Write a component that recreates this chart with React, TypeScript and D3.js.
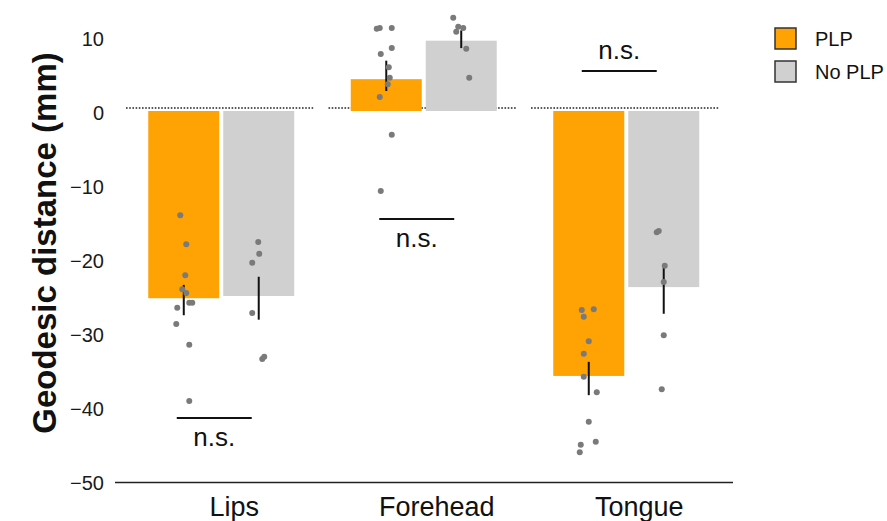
import React, { useEffect, useRef } from "react";
import * as d3 from "d3";

// regions and conditions
const regions = ["Lips", "Forehead", "Tongue"];
const conditions = ["PLP", "No PLP"];
const conditionColors = ["#FFA203", "#D0D0D0"];

// bar heights (mean geodesic distance, mm)
const plpMeans = [-25.3, 4.3, -35.8];
const noPlpMeans = [-25.0, 9.5, -23.8];

// error bar ends
const plpErrHigh = [-23.5, 6.8, -33.9];
const plpErrLow = [-27.6, 2.7, -38.4];
const noPlpErrHigh = [-22.4, 10.9, -21.1];
const noPlpErrLow = [-28.2, 8.5, -27.4];

// individual participants: [value, jitter]
const plpPoints = [
  [[-14.1, -3.5], [-18.0, 2.5], [-22.2, 1.5], [-24.1, -1.5], [-24.6, 2.5], [-25.9, 5.5], [-25.9, 8.5], [-26.6, -6.5], [-28.8, -7.5], [-31.6, 5.5], [-39.2, 5.5]],
  [[11.1, -9.5], [11.2, -6.5], [11.2, 5.5], [8.5, 5.5], [7.7, -5.5], [5.9, 2.5], [4.5, 3.5], [3.6, 1.5], [1.9, -6.5], [-3.2, 5.5], [-10.8, -5.5]],
  [[-26.9, -7], [-26.8, 5], [-27.8, -5], [-31.1, 0], [-32.8, -5], [-35.9, -5], [-38.0, 8], [-42.0, 0], [-45.1, -8], [-44.7, 7], [-46.1, -9]],
];
const noPlpPoints = [
  [[-17.7, -0.5], [-19.3, 0.5], [-20.5, -6.5], [-27.3, -6.5], [-33.5, 3.5], [-33.2, 5.5]],
  [[12.6, -8], [11.4, -3], [10.7, -5], [11.2, 2], [8.4, 5], [4.5, 8]],
  [[-16.4, -7], [-16.2, -5], [-20.9, 1], [-23.1, 0], [-30.3, 0], [-37.6, -2]],
];

// significance brackets
const sigLevels = [-41.5, -14.6, 5.4];
const sigLabels = ["n.s.", "n.s.", "n.s."];
const sigAbove = [false, false, true];

const yTicks = [10, 0, -10, -20, -30, -40, -50];

const FONT = "'Liberation Sans', Arial, Helvetica, sans-serif";

function App() {
  const ref = useRef(null);

  useEffect(() => {
    const svg = d3.select(ref.current);
    svg.selectAll("*").remove();

    const width = 887;
    const height = 521;

    svg.append("rect").attr("width", width).attr("height", height).attr("fill", "#fff");

    const x = d3.scaleBand().domain(regions).range([120, 727.5]).padding(0);
    const xInner = d3
      .scaleBand()
      .domain(conditions)
      .range([0, x.bandwidth()])
      .paddingInner(0.053)
      .paddingOuter(0.377);
    const y = d3.scaleLinear().domain([-50, 10]).range([481, 37]);

    // y axis labels
    const yAxis = svg
      .append("g")
      .attr("transform", "translate(110,2.5)")
      .call(d3.axisLeft(y).tickValues(yTicks).tickSize(0).tickPadding(6));
    yAxis.select(".domain").remove();
    yAxis
      .selectAll("text")
      .attr("font-family", FONT)
      .attr("font-size", 20)
      .attr("fill", "#1a1a1a");

    svg
      .append("text")
      .attr("transform", `translate(56,${243}) rotate(-90)`)
      .attr("text-anchor", "middle")
      .attr("font-family", FONT)
      .attr("font-weight", "bold")
      .attr("font-size", 33)
      .attr("fill", "#111")
      .text("Geodesic distance (mm)");

    // x axis line
    svg
      .append("line")
      .attr("x1", 115)
      .attr("x2", 733)
      .attr("y1", y(-50) + 1.5)
      .attr("y2", y(-50) + 1.5)
      .attr("stroke", "#222")
      .attr("stroke-width", 1.5);

    svg
      .selectAll(".region-label")
      .data(regions)
      .enter()
      .append("text")
      .attr("class", "region-label")
      .attr("x", (d) => x(d) + x.bandwidth() / 2 + 13)
      .attr("y", 516)
      .attr("text-anchor", "middle")
      .attr("font-family", FONT)
      .attr("font-size", 27)
      .attr("fill", "#111")
      .text((d) => d);

    const series = [
      { cond: conditions[0], means: plpMeans, hi: plpErrHigh, lo: plpErrLow, pts: plpPoints, color: conditionColors[0] },
      { cond: conditions[1], means: noPlpMeans, hi: noPlpErrHigh, lo: noPlpErrLow, pts: noPlpPoints, color: conditionColors[1] },
    ];

    regions.forEach((region, i) => {
      const g = svg.append("g").attr("transform", `translate(${x(region)},0)`);

      // zero reference line
      g.append("line")
        .attr("x1", 6)
        .attr("x2", x.bandwidth() - 8)
        .attr("y1", y(0) - 3)
        .attr("y2", y(0) - 3)
        .attr("stroke", "#222")
        .attr("stroke-width", 1.6)
        .attr("stroke-dasharray", "1.6,1.6");

      series.forEach((s) => {
        const v = s.means[i];
        const cx = xInner(s.cond) + xInner.bandwidth() / 2;
        g.append("rect")
          .attr("x", xInner(s.cond))
          .attr("width", xInner.bandwidth())
          .attr("y", y(Math.max(0, v)))
          .attr("height", Math.abs(y(v) - y(0)))
          .attr("fill", s.color);

        g.append("line")
          .attr("x1", cx)
          .attr("x2", cx)
          .attr("y1", y(s.hi[i]))
          .attr("y2", y(s.lo[i]))
          .attr("stroke", "#111")
          .attr("stroke-width", 2);

        g.selectAll(null)
          .data(s.pts[i])
          .enter()
          .append("circle")
          .attr("cx", (d) => cx + d[1])
          .attr("cy", (d) => y(d[0]))
          .attr("r", 3)
          .attr("fill", "#7a7a7a");
      });

      // significance bracket
      const x1 = xInner(conditions[0]) + xInner.bandwidth() / 2 - 7;
      const x2 = xInner(conditions[1]) + xInner.bandwidth() / 2 - 7;
      const ly = y(sigLevels[i]);
      g.append("line")
        .attr("x1", x1)
        .attr("x2", x2)
        .attr("y1", ly)
        .attr("y2", ly)
        .attr("stroke", "#111")
        .attr("stroke-width", 2);
      g.append("text")
        .attr("x", (x1 + x2) / 2)
        .attr("y", sigAbove[i] ? ly - 12 : ly + 28)
        .attr("text-anchor", "middle")
        .attr("font-family", FONT)
        .attr("font-size", 26)
        .attr("fill", "#111")
        .text(sigLabels[i]);
    });

    // legend
    const legend = svg.append("g").attr("transform", "translate(775,28)");
    conditions.forEach((c, i) => {
      legend
        .append("rect")
        .attr("x", 0)
        .attr("y", i * 33)
        .attr("width", 21)
        .attr("height", 21)
        .attr("fill", conditionColors[i])
        .attr("stroke", "#333")
        .attr("stroke-width", 1.5);
      legend
        .append("text")
        .attr("x", 40)
        .attr("y", i * 33 + 11)
        .attr("dominant-baseline", "central")
        .attr("font-family", FONT)
        .attr("font-size", 20)
        .attr("fill", "#111")
        .text(c);
    });
  }, []);

  return (
    <svg
      ref={ref}
      width={887}
      height={521}
      style={{ position: "absolute", left: 0, top: 0, display: "block" }}
    />
  );
}

export default App;
